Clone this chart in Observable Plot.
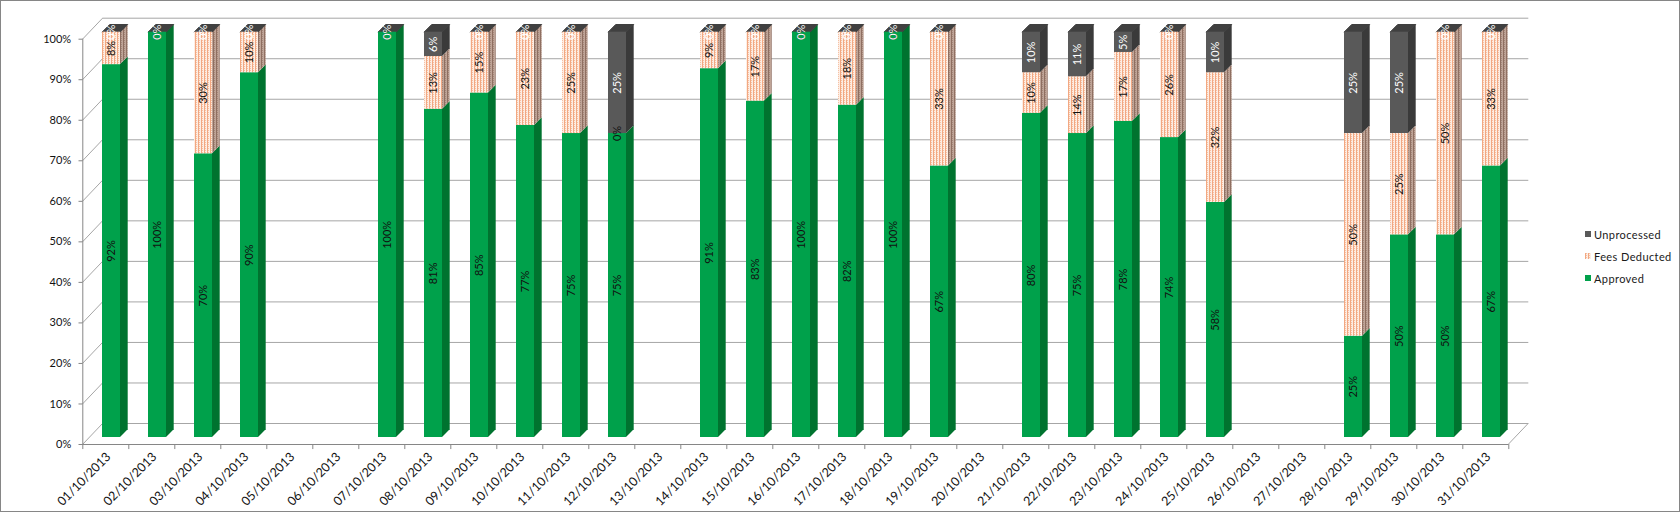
<!DOCTYPE html>
<html>
<head>
<meta charset="utf-8">
<script src="https://cdn.jsdelivr.net/npm/d3@7"></script>
<script src="https://cdn.jsdelivr.net/npm/@observablehq/plot@0.6"></script>
<style>
  html, body { margin: 0; padding: 0; background: #fff; }
  #wrap { position: relative; width: 1680px; height: 513px; overflow: hidden; font-family: Lato, "Liberation Sans", sans-serif; }
  #chart { position: absolute; left: 0; top: 0; }
  #frame { position: absolute; left: 0; top: 0; width: 1680px; height: 512px; box-sizing: border-box; border: 1px solid #868686; pointer-events: none; }
  #legend { position: absolute; left: 1585px; top: 223px; font-size: 11px; color: #1a1a1a; letter-spacing: 0.4px; }
  #legend .item { display: flex; align-items: center; height: 22px; white-space: nowrap; }
  #legend .sw { width: 6px; height: 6px; margin-right: 3px; display: block; }
</style>
</head>
<body>
<div id="wrap">
  <div id="chart"></div>
  <div id="legend"></div>
  <div id="frame"></div>
</div>
<script>
// ---------------- data ----------------
const dates = [
  "01/10/2013","02/10/2013","03/10/2013","04/10/2013","05/10/2013","06/10/2013","07/10/2013",
  "08/10/2013","09/10/2013","10/10/2013","11/10/2013","12/10/2013","13/10/2013","14/10/2013",
  "15/10/2013","16/10/2013","17/10/2013","18/10/2013","19/10/2013","20/10/2013","21/10/2013",
  "22/10/2013","23/10/2013","24/10/2013","25/10/2013","26/10/2013","27/10/2013","28/10/2013",
  "29/10/2013","30/10/2013","31/10/2013"
];
const approved     = [92,100,70,90,null,null,100,81,85,77,75,75,null,91,83,100,82,100,67,null,80,75,78,74,58,null,null,25,50,50,67];
const feesDeducted = [ 8,  0,30,10,null,null,  0,13,15,23,25, 0,null, 9,17,  0,18,  0,33,null,10,14,17,26,32,null,null,50,25,50,33];
const unprocessed  = [ 0,  0, 0, 0,null,null,  0, 6, 0, 0, 0,25,null, 0, 0,  0, 0,  0, 0,null,10,11, 5, 0,10,null,null,25,25, 0, 0];
const yTicks = [0,10,20,30,40,50,60,70,80,90,100];
const seriesNames = ["Approved","Fees Deducted","Unprocessed"];

// ---------------- styles ----------------
const DEPTH = 7.7;            // bar 3D depth (px)
const FRONT_DX = -19.5;       // bar-left -> front axis offset (px)
const WALL = {dx: 20, dy: 21};// front axis -> back wall
const gridColor = "#a6a6a6";
const axisColor = "#868686";
const style = {
  "Approved":      {front: "#00A14B", side: "#00732F", text: "#111"},
  "Fees Deducted": {front: "#F8CBAD", side: "#A88A7C", text: "#111"},
  "Unprocessed":   {front: "#595959", side: "#3a3a3a", text: "#fff"}
};

// ---------------- build stacked rows ----------------
const valuesBySeries = {"Approved": approved, "Fees Deducted": feesDeducted, "Unprocessed": unprocessed};
const segs = [];
const tops = [];
dates.forEach((d, i) => {
  if (approved[i] == null) return;
  let base = 0;
  for (const s of seriesNames) {
    const v = valuesBySeries[s][i];
    segs.push({date: d, series: s, v, y1: base, y2: base + v});
    base += v;
  }
  tops.push({date: d, total: base});
});
const bySeries = s => segs.filter(r => r.series === s);
const tag = name => ({ariaDescription: name});

const marks = [
  // back wall gridlines
  Plot.ruleY(yTicks, {stroke: gridColor, dx: 14.3, dy: -14}),
  // left wall diagonals (reshaped after render)
  Plot.tickY(yTicks, {x: () => dates[0], y: d => d, stroke: gridColor, ...tag("wall-diag")}),
  // floor right diagonal
  Plot.tickY([0], {x: () => dates[dates.length - 1], y: d => d, stroke: gridColor, ...tag("floor-diag")}),
  // front y axis line & ticks
  Plot.ruleX([dates[0]], {y1: 0, y2: 100, dx: -28.7, dy: 7, stroke: axisColor}),
  Plot.tickY(yTicks, {x: () => dates[0], y: d => d, stroke: axisColor, ...tag("ytick")}),
  // front x axis line & ticks
  Plot.ruleY([0], {dx: -5.7, dy: 7, stroke: axisColor}),
  Plot.ruleX(dates, {x: d => d, y1: 0, y2: -1.25, dx: -28.7, dy: 7, stroke: axisColor}),
  Plot.ruleX([dates[dates.length - 1]], {y1: 0, y2: -1.25, dx: 17.3, dy: 7, stroke: axisColor}),
  // y labels
  Plot.text(yTicks, {y: d => d, frameAnchor: "left", text: d => d + "%", textAnchor: "end", dx: -17.3, dy: 7, fontSize: 11, fill: "#111"}),
  // x labels
  Plot.text(dates, {x: d => d, frameAnchor: "bottom", text: d => d, rotate: -45, textAnchor: "end", dx: 0, dy: 20, fontSize: 12.5, fill: "#111"}),
];
// side faces
for (const s of seriesNames) {
  marks.push(Plot.barY(bySeries(s), {x: "date", y1: "y1", y2: "y2", fill: style[s].side, ...tag("side-" + s)}));
}
// caps
marks.push(Plot.tickY(tops, {x: "date", y: "total", stroke: "#404040", ...tag("cap")}));
// front faces
for (const s of seriesNames) {
  marks.push(Plot.barY(bySeries(s), {x: "date", y1: "y1", y2: "y2", fill: style[s].front, ...tag("front-" + s)}));
}
// value labels
for (const s of seriesNames) {
  marks.push(Plot.text(bySeries(s), {x: "date", y: d => (d.y1 + d.y2) / 2, text: d => d.v + "%", rotate: -90, fill: style[s].text, fontSize: 11}));
}

const chart = Plot.plot({
  width: 1680, height: 513,
  marginTop: 31.7, marginBottom: 76, marginLeft: 88, marginRight: 166,
  x: {type: "band", domain: dates, paddingInner: 0.6, paddingOuter: 0.3, axis: null},
  y: {domain: [0, 100], axis: null},
  style: {fontFamily: "Lato, 'Liberation Sans', sans-serif", fontSize: "11px", background: "transparent", overflow: "visible"},
  marks
});
document.getElementById("chart").appendChild(chart);

// ---------------- 3D reshaping ----------------
const NS = "http://www.w3.org/2000/svg";
const svg = chart.tagName.toLowerCase() === "svg" ? chart : chart.querySelector("svg");
const groups = label => [...svg.querySelectorAll(`g[aria-description="${label}"]`)];
const els = (label, tagName) => groups(label).flatMap(g => [...g.querySelectorAll(tagName)]);
const num = (el, a) => +el.getAttribute(a);
function toPolygon(el, pts, fill) {
  const p = document.createElementNS(NS, "polygon");
  p.setAttribute("points", pts.map(q => q.join(",")).join(" "));
  if (fill) p.setAttribute("fill", fill);
  el.replaceWith(p);
}

const defs = document.createElementNS(NS, "defs");
defs.innerHTML = `
  <pattern id="feesFront" width="3" height="2" patternUnits="userSpaceOnUse">
    <rect width="3" height="2" fill="#FDEDE3"/>
    <rect x="0" width="1" height="2" fill="#F2A882"/>
    <rect x="1" width="1" height="1" fill="#F6C1A4"/>
  </pattern>
  <pattern id="feesSide" width="3" height="2" patternUnits="userSpaceOnUse">
    <rect width="3" height="2" fill="#BFA497"/>
    <rect x="0" width="1" height="2" fill="#8F6F61"/>
    <rect x="1" width="1" height="1" fill="#A3877A"/>
  </pattern>`;
svg.insertBefore(defs, svg.firstChild);
groups("front-Fees Deducted").forEach(g => g.setAttribute("fill", "url(#feesFront)"));
groups("side-Fees Deducted").forEach(g => g.setAttribute("fill", "url(#feesSide)"));

for (const s of seriesNames) {
  els("side-" + s, "rect").forEach(r => {
    const x = num(r, "x"), y = num(r, "y"), w = num(r, "width"), h = num(r, "height");
    toPolygon(r, [[x + w, y], [x + w + DEPTH, y - DEPTH], [x + w + DEPTH, y + h - DEPTH], [x + w, y + h]]);
  });
}
els("cap", "line").forEach(l => {
  const x1 = num(l, "x1"), x2 = num(l, "x2"), y = num(l, "y1");
  toPolygon(l, [[x1, y], [x1 + DEPTH, y - DEPTH], [x2 + DEPTH, y - DEPTH], [x2, y]], "#404040");
});
els("wall-diag", "line").forEach(l => {
  const x = num(l, "x1") + FRONT_DX, y = num(l, "y1");
  l.setAttribute("x1", x); l.setAttribute("y1", y + 7);
  l.setAttribute("x2", x + WALL.dx); l.setAttribute("y2", y + 7 - WALL.dy);
});
els("ytick", "line").forEach(l => {
  const x = num(l, "x1") + FRONT_DX, y = num(l, "y1");
  l.setAttribute("x1", x - 4); l.setAttribute("x2", x);
  l.setAttribute("y1", y + 7); l.setAttribute("y2", y + 7);
});
els("floor-diag", "line").forEach(l => {
  const x = num(l, "x2") + 8.1, y = num(l, "y1");
  l.setAttribute("x1", x); l.setAttribute("y1", y + 7);
  l.setAttribute("x2", x + WALL.dx); l.setAttribute("y2", y + 7 - WALL.dy);
});

// ---------------- legend ----------------
const legend = document.getElementById("legend");
for (const s of seriesNames.slice().reverse()) {
  const fill = s === "Fees Deducted" ? "url(#feesFront)" : style[s].front;
  const item = document.createElement("div");
  item.className = "item";
  item.innerHTML = `<svg class="sw" width="6" height="6"><rect width="6" height="6" fill="${fill}"/></svg><span>${s}</span>`;
  legend.appendChild(item);
}
</script>
</body>
</html>
